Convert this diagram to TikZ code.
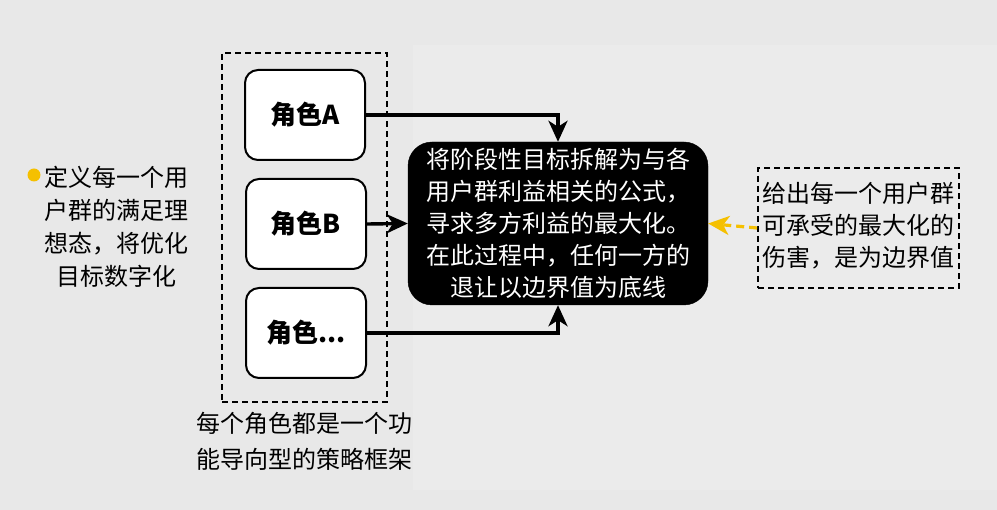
\documentclass[tikz,border=0pt]{standalone}
\usepackage{fontspec}
\setmainfont{Noto Sans CJK SC}
\usetikzlibrary{arrows.meta}
\definecolor{bgc}{RGB}{232,232,232}
\definecolor{panelc}{RGB}{235,235,235}
\definecolor{dotc}{RGB}{245,192,0}
\begin{document}
\begin{tikzpicture}[x=1pt,y=-1pt,
  rolebox/.style={draw=black,line width=2pt,fill=white,rounded corners=13pt,
    minimum width=120pt,minimum height=90pt,inner sep=0pt,
    font=\fontsize{26}{30}\selectfont\bfseries},
  grpbox/.style={draw=black,line width=1.8pt,dash pattern=on 6pt off 4pt,
    minimum width=165pt,minimum height=349pt,inner sep=0pt},
  mainbox/.style={draw=black,fill=black,rounded corners=24pt,text=white,
    minimum width=300pt,minimum height=163pt,inner sep=0pt,align=center,
    font=\fontsize{24}{32}\selectfont},
  notebox/.style={draw=black,line width=1.8pt,dash pattern=on 6pt off 4pt,
    minimum width=201pt,minimum height=120pt,inner sep=0pt},
  plaintxt/.style={align=center,inner sep=0pt,font=\fontsize{24}{33}\selectfont},
  conn/.style={line width=3.4pt,-{Stealth[length=21pt,width=19pt,inset=6pt]}},
  yconn/.style={draw=dotc,line width=3.2pt,dash pattern=on 8pt off 5pt,
    -{Stealth[length=21pt,width=19pt,inset=6pt,fill=dotc]}}
]
\useasboundingbox (0,0) rectangle (997,510);
\fill[bgc] (0,0) rectangle (997,510);
\fill[panelc] (413,45) rectangle (997,490);

% left note
\fill[dotc] (34,175) circle (6.5pt);
\node[plaintxt] (lefttxt) at (116.5,227) {定义每一个用\\户群的满足理\\想态，将优化\\目标数字化};

% group of roles
\node[grpbox] (grp) at (304.5,227.5) {};
\node[rolebox] (ra) at (305,115) {角色A};
\node[rolebox] (rb) at (306,224) {角色B};
\node[rolebox] (rc) at (306,333) {角色...};
\node[plaintxt,font=\fontsize{24}{36}\selectfont] (cap) at (304,441) {每个角色都是一个功\\能导向型的策略框架};

% main box
\node[mainbox] (ctr) at (558,223.5) {将阶段性目标拆解为与各\\用户群利益相关的公式，\\寻求多方利益的最大化。\\在此过程中，任何一方的\\退让以边界值为底线};

% right note
\node[notebox] (note) at (858.5,228) {};
\node[align=left,inner sep=0pt,anchor=west,font=\fontsize{24}{32}\selectfont] (notetxt) at (762,226) {给出每一个用户群\\可承受的最大化的\\伤害，是为边界值};

% connectors
\draw[conn] (ra.east) -| (ctr.north);
\draw[conn] (rb.east) -- (ctr.west);
\draw[conn] (rc.east) -| (ctr.south);
\draw[yconn] (note.west) -- (ctr.east);
\end{tikzpicture}
\end{document}
